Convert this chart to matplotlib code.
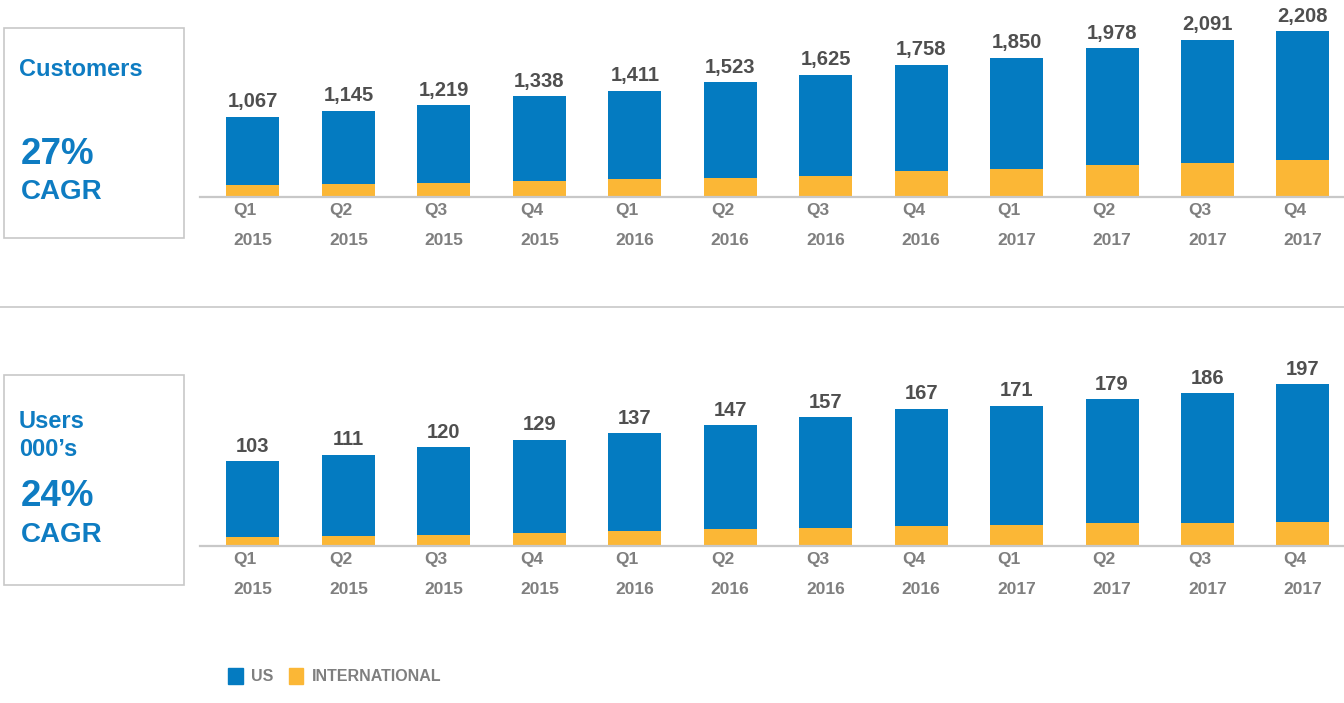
import matplotlib
matplotlib.use("Agg")
import matplotlib.pyplot as plt
import numpy as np
from matplotlib.lines import Line2D
from matplotlib.patches import Patch, Rectangle

plt.rcParams["font.family"] = ["Liberation Sans", "DejaVu Sans"]

quarters = ["Q1\n2015", "Q2\n2015", "Q3\n2015", "Q4\n2015",
            "Q1\n2016", "Q2\n2016", "Q3\n2016", "Q4\n2016",
            "Q1\n2017", "Q2\n2017", "Q3\n2017", "Q4\n2017"]

customers_total = [1067, 1145, 1219, 1338, 1411, 1523, 1625, 1758, 1850, 1978, 2091, 2208]
customers_intl = [152, 169, 182, 213, 232, 249, 271, 338, 365, 414, 450, 485]

users_total = [103, 111, 120, 129, 137, 147, 157, 167, 171, 179, 186, 197]
users_intl = [10, 12, 13, 15, 18, 20, 22, 24, 25, 27, 28, 29]

BLUE = "#047BC1"
YELLOW = "#FBB736"
TEXT_BLUE = "#0E7CC2"
VALUE_GREY = "#4F4F4F"
TICK_GREY = "#7F7F7F"
LINE_GREY = "#C8C8C8"

W, H = 1344, 703
fig = plt.figure(figsize=(W / 100, H / 100), dpi=100)


def px_box(left, top, right, bottom):
    """pixel box (from top-left) -> figure fraction [l, b, w, h]"""
    return [left / W, 1 - bottom / H, (right - left) / W, (bottom - top) / H]


def draw_panel(rect, total, intl, ymax):
    ax = fig.add_axes(rect)
    x = np.arange(len(total))
    total = np.array(total)
    intl = np.array(intl)
    us = total - intl
    ax.bar(x, intl, width=0.555, color=YELLOW, zorder=2)
    ax.bar(x, us, bottom=intl, width=0.555, color=BLUE, zorder=2)
    for xi, t in zip(x, total):
        ax.annotate(f"{t:,}", (xi, t), xytext=(0, 4), textcoords="offset points",
                    ha="center", va="bottom", fontsize=14.5, fontweight="bold",
                    color=VALUE_GREY)
    ax.set_xlim(-0.555, 11.43)
    ax.set_ylim(0, ymax)
    ax.set_xticks(x)
    ax.set_xticklabels(quarters, fontsize=12.5, fontweight="bold", color=TICK_GREY,
                       linespacing=2.2, multialignment="left")
    ax.tick_params(axis="x", length=0, pad=5)
    ax.set_yticks([])
    for s in ("top", "left", "right"):
        ax.spines[s].set_visible(False)
    ax.spines["bottom"].set_color(LINE_GREY)
    ax.spines["bottom"].set_linewidth(1.6)
    return ax


draw_panel(px_box(200, 10, 1344, 196.5), customers_total, customers_intl, 186.5 / 0.0749)
draw_panel(px_box(200, 360, 1344, 545.5), users_total, users_intl, 185.5 / 0.818)

# left summary boxes
for top, bottom in [(28, 238), (375, 585)]:
    l, b, w, h = px_box(4, top, 184, bottom)
    fig.add_artist(Rectangle((l, b), w, h, transform=fig.transFigure,
                             fill=False, edgecolor=LINE_GREY, lw=1.2))


def ftext(x, y, s, size):
    fig.text(x / W, 1 - y / H, s, fontsize=size, fontweight="bold",
             color=TEXT_BLUE, ha="left", va="center")


ftext(19, 69, "Customers", 17)
ftext(21, 155, "27%", 26.5)
ftext(21, 192, "CAGR", 20)
ftext(19, 421, "Users", 17)
ftext(19, 449, "000\u2019s", 17)
ftext(21, 497, "24%", 26.5)
ftext(21, 535, "CAGR", 20)

# separator between the two panels
fig.add_artist(Line2D([0, 1], [1 - 307 / H, 1 - 307 / H], transform=fig.transFigure,
                      color=LINE_GREY, lw=1.2))

handles = [Patch(color=BLUE), Patch(color=YELLOW)]
leg = fig.legend(handles, ["US", "INTERNATIONAL"], loc="center left",
                 bbox_to_anchor=(214 / W, 1 - 676 / H), ncol=2, frameon=False,
                 handlelength=0.9, handleheight=1.2, handletextpad=0.5,
                 columnspacing=1.0, prop={"size": 11.5, "weight": "bold"},
                 labelcolor=TICK_GREY)

fig.savefig("out.png", dpi=100)
